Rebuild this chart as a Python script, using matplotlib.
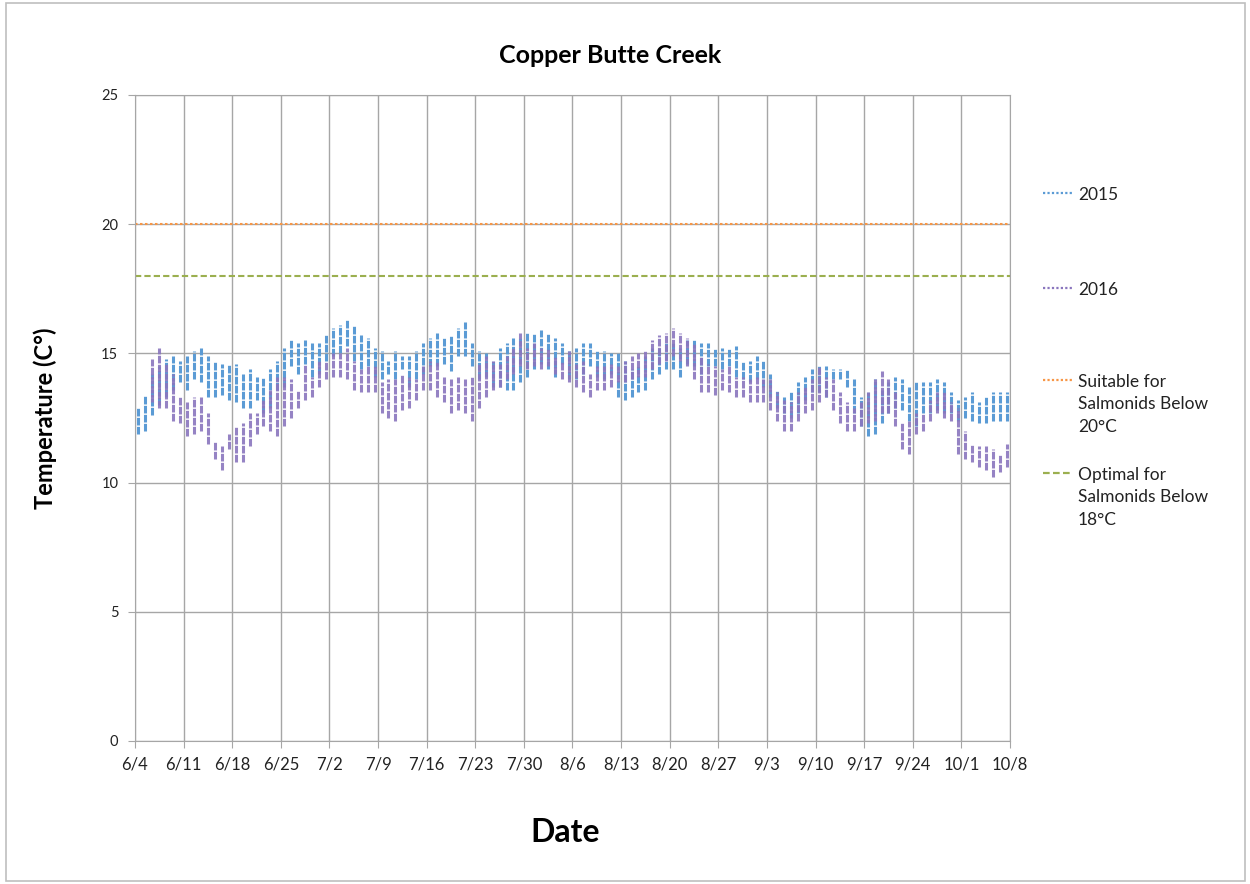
import numpy as np
import matplotlib
matplotlib.use('Agg')
import matplotlib.pyplot as plt
from matplotlib.lines import Line2D
from matplotlib.patches import Rectangle

plt.rcParams['font.family'] = ['Lato', 'DejaVu Sans']

# daily temperature range (deg C), one value per day from 6/4 to 10/7
min_2015 = [11.9, 12.0, 12.6, 13.0, 13.3, 13.6, 13.9, 13.6, 14.0, 13.9,
            13.3, 13.3, 13.4, 13.2, 13.1, 12.9, 12.9, 13.2, 12.7, 12.9,
            13.6, 13.7, 14.5, 14.2, 14.6, 14.1, 14.2, 14.7, 14.9, 15.0,
            15.3, 14.7, 14.4, 14.5, 14.1, 14.0, 14.2, 14.0, 14.4, 13.7,
            14.0, 14.2, 14.5, 14.5, 14.6, 14.3, 14.9, 14.9, 14.5, 14.0,
            14.1, 13.7, 13.7, 13.6, 13.6, 13.9, 14.1, 14.4, 14.6, 14.4,
            14.1, 14.6, 14.0, 14.0, 14.2, 14.5, 14.1, 14.0, 14.2, 13.3,
            13.2, 13.3, 13.5, 13.6, 14.0, 14.2, 14.4, 14.4, 14.1, 14.6,
            14.5, 14.2, 14.5, 14.5, 14.4, 14.5, 14.1, 14.0, 13.9, 14.0,
            13.7, 13.3, 12.9, 12.7, 12.5, 12.7, 13.2, 13.5, 13.5, 13.3,
            14.0, 14.0, 13.7, 12.7, 12.2, 11.8, 11.9, 12.3, 12.7, 12.9,
            12.8, 12.4, 12.2, 12.7, 12.7, 12.8, 12.7, 12.7, 12.4, 12.5,
            12.4, 12.3, 12.3, 12.4, 12.4, 12.4]
max_2015 = [12.9, 13.4, 14.2, 14.5, 14.8, 14.9, 14.7, 14.9, 15.1, 15.2,
            14.9, 14.7, 14.6, 14.6, 14.6, 14.2, 14.4, 14.1, 14.1, 14.4,
            14.7, 15.2, 15.5, 15.4, 15.5, 15.4, 15.4, 15.7, 16.0, 16.1,
            16.3, 16.1, 15.7, 15.6, 15.2, 15.1, 14.7, 15.1, 14.9, 14.9,
            15.1, 15.4, 15.6, 15.8, 15.6, 15.7, 16.0, 16.2, 15.4, 15.1,
            15.0, 14.7, 15.2, 15.4, 15.6, 15.6, 15.8, 15.8, 15.9, 15.8,
            15.6, 15.4, 15.1, 15.2, 15.4, 15.4, 15.1, 15.1, 15.0, 15.0,
            14.7, 14.4, 14.5, 14.9, 15.2, 15.2, 15.4, 15.4, 15.2, 15.5,
            15.5, 15.4, 15.4, 15.2, 15.2, 15.2, 15.3, 14.7, 14.7, 14.9,
            14.7, 14.2, 13.6, 13.3, 13.5, 13.9, 14.1, 14.4, 14.5, 14.5,
            14.4, 14.4, 14.4, 14.0, 13.3, 13.5, 14.0, 13.6, 13.9, 14.1,
            14.0, 13.7, 13.9, 13.9, 13.9, 14.0, 13.9, 13.5, 13.2, 13.3,
            13.5, 13.1, 13.3, 13.5, 13.5, 13.5]

min_2016 = [np.nan, np.nan, 13.1, 12.9, 12.9, 12.4, 12.3, 11.8, 11.9, 12.0,
            11.5, 10.9, 10.5, 11.3, 10.8, 10.8, 11.4, 11.9, 12.2, 12.0,
            11.8, 12.2, 12.5, 12.9, 13.2, 13.3, 13.7, 14.0, 14.1, 14.1,
            14.0, 13.6, 13.5, 13.5, 13.5, 12.7, 12.5, 12.4, 12.8, 12.9,
            13.2, 13.6, 13.6, 13.3, 13.1, 12.7, 12.8, 12.7, 12.4, 12.9,
            13.3, 13.6, 13.7, 14.0, 14.2, 14.5, 14.4, 14.5, 14.4, 14.5,
            14.2, 14.0, 13.9, 13.7, 13.5, 13.3, 13.6, 13.6, 13.7, 13.9,
            13.9, 14.0, 14.1, 14.1, 14.4, 14.6, 14.7, 14.9, 14.7, 14.5,
            14.0, 13.5, 13.5, 13.4, 13.6, 13.5, 13.3, 13.3, 13.1, 13.1,
            13.1, 12.8, 12.4, 12.0, 12.0, 12.4, 12.7, 12.8, 13.1, 13.3,
            12.8, 12.3, 12.0, 12.0, 12.2, 12.3, 12.4, 12.7, 12.7, 12.2,
            11.3, 11.1, 11.9, 12.0, 12.4, 12.7, 12.5, 12.4, 11.1, 10.9,
            10.8, 10.6, 10.5, 10.2, 10.4, 10.6]
max_2016 = [np.nan, np.nan, 14.8, 15.2, 14.6, 14.2, 13.3, 13.1, 13.3, 13.3,
            12.7, 11.6, 11.4, 11.9, 12.2, 12.3, 12.7, 12.7, 13.2, 13.6,
            14.1, 14.1, 14.0, 13.6, 14.6, 14.1, 14.7, 14.7, 15.0, 15.0,
            15.2, 14.7, 14.4, 14.5, 14.5, 13.9, 14.0, 14.0, 14.2, 14.1,
            14.0, 14.5, 14.7, 14.7, 14.1, 14.0, 14.1, 14.0, 14.1, 14.6,
            14.9, 14.7, 14.6, 14.9, 15.2, 15.8, 15.2, 15.4, 15.2, 15.2,
            14.9, 14.7, 15.1, 14.6, 14.7, 14.2, 14.5, 14.5, 14.6, 14.5,
            14.7, 14.9, 15.0, 15.1, 15.5, 15.7, 15.8, 16.0, 15.8, 15.6,
            15.4, 14.9, 14.6, 14.5, 14.4, 14.5, 14.1, 14.1, 14.0, 14.1,
            14.0, 14.0, 13.5, 13.2, 13.1, 13.5, 13.7, 14.0, 14.5, 14.1,
            14.0, 13.5, 13.1, 12.9, 13.1, 13.5, 14.0, 14.3, 14.0, 13.5,
            12.3, 12.4, 12.7, 12.7, 13.2, 13.5, 13.5, 13.1, 12.9, 12.0,
            11.5, 11.4, 11.4, 11.3, 11.1, 11.5]

suitable_limit = 20
optimal_limit = 18
tick_labels = ['6/4', '6/11', '6/18', '6/25', '7/2', '7/9', '7/16', '7/23', '7/30',
               '8/6', '8/13', '8/20', '8/27', '9/3', '9/10', '9/17', '9/24', '10/1', '10/8']

c2015 = '#5B9BD5'
c2016 = '#8A76BE'
corange = '#F79646'
cgreen = '#9BAF4F'
cgrid = '#A6A6A6'

days = np.arange(len(min_2015)) + 0.5
lo16 = np.array(min_2016)
hi16 = np.array(max_2016)
ok = ~np.isnan(lo16)

fig = plt.figure(figsize=(12.5, 8.84), dpi=100)
ax = fig.add_axes([135 / 1250, 1 - 741 / 884, 875 / 1250, 646 / 884])

dot = (0, (2.5, 0.45))
ax.vlines(days, min_2015, max_2015, colors=c2015, linewidth=2.2, linestyles=[dot], zorder=3)
ax.vlines(days[ok], lo16[ok], hi16[ok], colors=c2016, linewidth=2.2, linestyles=[dot],
          alpha=0.9, zorder=4)
ax.axhline(suitable_limit, color=corange, linestyle=(0, (1.2, 1.2)), linewidth=1.5, zorder=2)
ax.axhline(optimal_limit, color=cgreen, linestyle=(0, (3, 1.5)), linewidth=1.5, zorder=2)

ax.set_xlim(0, 126)
ax.set_ylim(0, 25)
ax.set_xticks(np.arange(0, 127, 7))
ax.set_xticklabels(tick_labels)
ax.set_yticks([0, 5, 10, 15, 20, 25])
ax.grid(True, color=cgrid, linewidth=1.0, zorder=0)
ax.set_axisbelow(True)
for s in ax.spines.values():
    s.set_color(cgrid)
ax.tick_params(axis='both', colors=cgrid, length=5, labelcolor='#222222')
ax.tick_params(axis='x', labelsize=12, pad=6)
ax.tick_params(axis='y', labelsize=10.5, pad=7)

fig.text(0.488, 0.937, 'Copper Butte Creek', ha='center', va='center',
         fontsize=18, fontweight='bold')
fig.text(0.036, 0.527, 'Temperature (C°)', ha='center', va='center', rotation=90,
         fontsize=17, fontweight='bold')
fig.text(0.452, 0.058, 'Date', ha='center', va='center', fontsize=23, fontweight='bold')

# legend drawn by hand so handles sit at the first text line
entries = [(c2015, (0, (1.0, 1.0)), '2015', 193),
           (c2016, (0, (1.0, 1.0)), '2016', 288),
           (corange, (0, (1.0, 1.0)), 'Suitable for\nSalmonids Below\n20°C', 380),
           (cgreen, (0, (3, 1.5)), 'Optimal for\nSalmonids Below\n18°C', 473)]
for col, ls, lab, ypx in entries:
    yf = 1 - ypx / 884
    fig.add_artist(Line2D([1043 / 1250, 1073 / 1250], [yf, yf], transform=fig.transFigure,
                          color=col, linestyle=ls, linewidth=1.6))
    fig.text(1078 / 1250, yf + 0.007, lab, ha='left', va='top', fontsize=12.5,
             linespacing=1.5, color='#222222')

fig.add_artist(Rectangle((6 / 1250, 3 / 884), 1239 / 1250, 878 / 884, transform=fig.transFigure,
                         fill=False, edgecolor='#BFBFBF', linewidth=1.2))

fig.savefig('out.png', dpi=100)
